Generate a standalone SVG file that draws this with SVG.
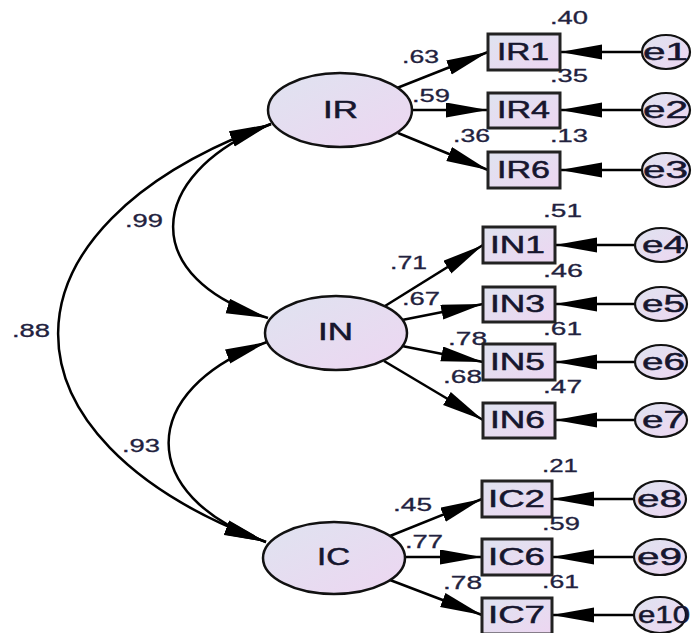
<svg xmlns="http://www.w3.org/2000/svg" width="693" height="633" viewBox="0 0 693 633">
  <defs>
    <linearGradient id="fillNode" x1="0" y1="0" x2="1" y2="1">
      <stop offset="0" stop-color="#dfe3f0"/>
      <stop offset="1" stop-color="#edd6f1"/>
    </linearGradient>
    <marker id="ah" markerUnits="userSpaceOnUse" markerWidth="44" markerHeight="16" refX="42" refY="7.5" orient="auto">
      <path d="M0,0 L42,7.5 L0,15 Z" fill="#000"/>
    </marker>
    <marker id="ahs" markerUnits="userSpaceOnUse" markerWidth="44" markerHeight="16" refX="42" refY="7.5" orient="auto-start-reverse">
      <path d="M0,0 L42,7.5 L0,15 Z" fill="#000"/>
    </marker>
  </defs>
  <style>
    .lat { fill: url(#fillNode); stroke: #111; stroke-width: 2.5; }
    .obs { fill: url(#fillNode); stroke: #222; stroke-width: 3; }
    .err { fill: url(#fillNode); stroke: #111; stroke-width: 2.2; }
    .lbl { font-family: "Liberation Sans", Arial, sans-serif; font-size: 24px; fill: #16162e; stroke: #16162e; stroke-width: 0.5; }
    .num { font-family: "Liberation Sans", Arial, sans-serif; font-size: 18px; fill: #22223e; stroke: #22223e; stroke-width: 0.3; }
    .path { fill: none; stroke: #000; stroke-width: 2.5; marker-end: url(#ah); }
    .cov { fill: none; stroke: #000; stroke-width: 2.5; marker-start: url(#ahs); marker-end: url(#ah); }
  </style>

  <!-- connectors -->
  <g id="connectors">
    <!-- covariances -->
    <path class="cov" d="M271,124 C-12,227 -12,439 266,542"/>
    <path class="cov" d="M271,124 C141,176 141,280 268,318"/>
    <path class="cov" d="M267,342 C136,390 136,496 266,542"/>
    <!-- loadings -->
    <line class="path" x1="397" y1="88" x2="488" y2="52"/>
    <line class="path" x1="412" y1="110" x2="488" y2="110"/>
    <line class="path" x1="398" y1="133" x2="488" y2="170"/>
    <line class="path" x1="385" y1="306" x2="483" y2="245"/>
    <line class="path" x1="402" y1="320" x2="483" y2="304"/>
    <line class="path" x1="402" y1="346" x2="483" y2="362"/>
    <line class="path" x1="384" y1="361" x2="483" y2="420"/>
    <line class="path" x1="390" y1="536" x2="482" y2="499"/>
    <line class="path" x1="405" y1="557" x2="482" y2="557"/>
    <line class="path" x1="390" y1="580" x2="482" y2="615"/>
    <!-- error terms -->
    <line class="path" x1="642" y1="52" x2="560" y2="52"/>
    <line class="path" x1="642" y1="110" x2="560" y2="110"/>
    <line class="path" x1="642" y1="170" x2="560" y2="170"/>
    <line class="path" x1="635" y1="245" x2="555" y2="245"/>
    <line class="path" x1="635" y1="304" x2="555" y2="304"/>
    <line class="path" x1="635" y1="362" x2="555" y2="362"/>
    <line class="path" x1="635" y1="420" x2="555" y2="420"/>
    <line class="path" x1="634" y1="499" x2="552" y2="499"/>
    <line class="path" x1="634" y1="557" x2="552" y2="557"/>
    <line class="path" x1="634" y1="615" x2="552" y2="615"/>
  </g>

  <!-- coefficient labels -->
  <g id="coefficients" class="num">
    <text x="125" y="227" textLength="38" lengthAdjust="spacingAndGlyphs">.99</text>
    <text x="12" y="337" textLength="38" lengthAdjust="spacingAndGlyphs">.88</text>
    <text x="122" y="452" textLength="38" lengthAdjust="spacingAndGlyphs">.93</text>
    <text x="402" y="63" textLength="37" lengthAdjust="spacingAndGlyphs">.63</text>
    <text x="412" y="102" textLength="38" lengthAdjust="spacingAndGlyphs">.59</text>
    <text x="453" y="142" textLength="37" lengthAdjust="spacingAndGlyphs">.36</text>
    <text x="390" y="269" textLength="37" lengthAdjust="spacingAndGlyphs">.71</text>
    <text x="402" y="305" textLength="38" lengthAdjust="spacingAndGlyphs">.67</text>
    <text x="448" y="345" textLength="39" lengthAdjust="spacingAndGlyphs">.78</text>
    <text x="443" y="383" textLength="39" lengthAdjust="spacingAndGlyphs">.68</text>
    <text x="393" y="511" textLength="39" lengthAdjust="spacingAndGlyphs">.45</text>
    <text x="405" y="548" textLength="38" lengthAdjust="spacingAndGlyphs">.77</text>
    <text x="443" y="589" textLength="39" lengthAdjust="spacingAndGlyphs">.78</text>
    <!-- squared multiple correlations -->
    <text x="550" y="24" textLength="38" lengthAdjust="spacingAndGlyphs">.40</text>
    <text x="550" y="82" textLength="38" lengthAdjust="spacingAndGlyphs">.35</text>
    <text x="550" y="142" textLength="38" lengthAdjust="spacingAndGlyphs">.13</text>
    <text x="543" y="217" textLength="39" lengthAdjust="spacingAndGlyphs">.51</text>
    <text x="543" y="277" textLength="40" lengthAdjust="spacingAndGlyphs">.46</text>
    <text x="543" y="335" textLength="39" lengthAdjust="spacingAndGlyphs">.61</text>
    <text x="543" y="393" textLength="39" lengthAdjust="spacingAndGlyphs">.47</text>
    <text x="542" y="472" textLength="36" lengthAdjust="spacingAndGlyphs">.21</text>
    <text x="542" y="530" textLength="38" lengthAdjust="spacingAndGlyphs">.59</text>
    <text x="542" y="588" textLength="37" lengthAdjust="spacingAndGlyphs">.61</text>
  </g>

  <!-- latent factors -->
  <g id="IR">
    <ellipse class="lat" cx="340" cy="110" rx="72" ry="37"/>
    <text class="lbl" x="323" y="118" textLength="35" lengthAdjust="spacingAndGlyphs">IR</text>
  </g>
  <g id="IN">
    <ellipse class="lat" cx="336" cy="333" rx="71" ry="37"/>
    <text class="lbl" x="318" y="340" textLength="35" lengthAdjust="spacingAndGlyphs">IN</text>
  </g>
  <g id="IC">
    <ellipse class="lat" cx="334" cy="558" rx="71" ry="36"/>
    <text class="lbl" x="317" y="565" textLength="33" lengthAdjust="spacingAndGlyphs">IC</text>
  </g>

  <!-- observed indicators -->
  <g id="IR1"><rect class="obs" x="488" y="34" width="72" height="36"/><text class="lbl" x="497" y="60" textLength="52" lengthAdjust="spacingAndGlyphs">IR1</text></g>
  <g id="IR4"><rect class="obs" x="488" y="93" width="72" height="35"/><text class="lbl" x="497" y="118" textLength="53" lengthAdjust="spacingAndGlyphs">IR4</text></g>
  <g id="IR6"><rect class="obs" x="488" y="152" width="72" height="36"/><text class="lbl" x="497" y="178" textLength="53" lengthAdjust="spacingAndGlyphs">IR6</text></g>
  <g id="IN1"><rect class="obs" x="483" y="227" width="72" height="36"/><text class="lbl" x="490" y="253" textLength="55" lengthAdjust="spacingAndGlyphs">IN1</text></g>
  <g id="IN3"><rect class="obs" x="483" y="287" width="72" height="35"/><text class="lbl" x="490" y="312" textLength="55" lengthAdjust="spacingAndGlyphs">IN3</text></g>
  <g id="IN5"><rect class="obs" x="483" y="344" width="72" height="36"/><text class="lbl" x="490" y="370" textLength="55" lengthAdjust="spacingAndGlyphs">IN5</text></g>
  <g id="IN6"><rect class="obs" x="483" y="403" width="72" height="35"/><text class="lbl" x="490" y="428" textLength="55" lengthAdjust="spacingAndGlyphs">IN6</text></g>
  <g id="IC2"><rect class="obs" x="482" y="481" width="70" height="36"/><text class="lbl" x="488" y="507" textLength="57" lengthAdjust="spacingAndGlyphs">IC2</text></g>
  <g id="IC6"><rect class="obs" x="482" y="539" width="70" height="36"/><text class="lbl" x="488" y="565" textLength="57" lengthAdjust="spacingAndGlyphs">IC6</text></g>
  <g id="IC7"><rect class="obs" x="482" y="598" width="70" height="36"/><text class="lbl" x="488" y="623" textLength="57" lengthAdjust="spacingAndGlyphs">IC7</text></g>

  <!-- error terms -->
  <g id="e1"><ellipse class="err" cx="666" cy="52" rx="24" ry="17"/><text class="lbl" x="643" y="60" textLength="45" lengthAdjust="spacingAndGlyphs">e1</text></g>
  <g id="e2"><ellipse class="err" cx="666" cy="110" rx="24" ry="17"/><text class="lbl" x="643" y="118" textLength="45" lengthAdjust="spacingAndGlyphs">e2</text></g>
  <g id="e3"><ellipse class="err" cx="666" cy="170" rx="24" ry="17"/><text class="lbl" x="643" y="178" textLength="45" lengthAdjust="spacingAndGlyphs">e3</text></g>
  <g id="e4"><ellipse class="err" cx="661" cy="245" rx="26" ry="17"/><text class="lbl" x="642" y="253" textLength="43" lengthAdjust="spacingAndGlyphs">e4</text></g>
  <g id="e5"><ellipse class="err" cx="661" cy="304" rx="26" ry="17"/><text class="lbl" x="642" y="312" textLength="43" lengthAdjust="spacingAndGlyphs">e5</text></g>
  <g id="e6"><ellipse class="err" cx="661" cy="362" rx="26" ry="17"/><text class="lbl" x="642" y="370" textLength="43" lengthAdjust="spacingAndGlyphs">e6</text></g>
  <g id="e7"><ellipse class="err" cx="661" cy="420" rx="26" ry="17"/><text class="lbl" x="642" y="428" textLength="43" lengthAdjust="spacingAndGlyphs">e7</text></g>
  <g id="e8"><ellipse class="err" cx="660" cy="499" rx="26" ry="18"/><text class="lbl" x="637" y="507" textLength="45" lengthAdjust="spacingAndGlyphs">e8</text></g>
  <g id="e9"><ellipse class="err" cx="660" cy="557" rx="26" ry="18"/><text class="lbl" x="637" y="565" textLength="45" lengthAdjust="spacingAndGlyphs">e9</text></g>
  <g id="e10"><ellipse class="err" cx="660" cy="615" rx="26" ry="18"/><text class="lbl" x="638" y="623" textLength="52" lengthAdjust="spacingAndGlyphs">e10</text></g>
</svg>
